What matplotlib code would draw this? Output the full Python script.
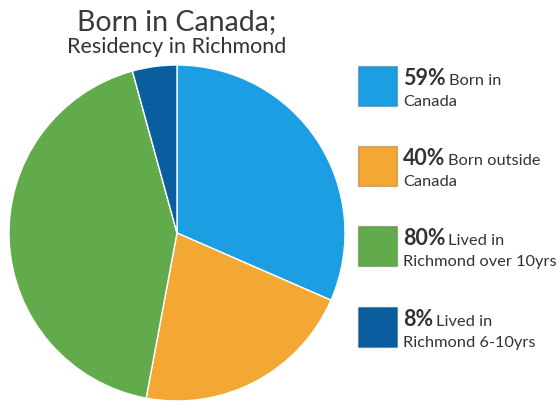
import matplotlib.pyplot as plt
from matplotlib.patches import Rectangle

# data
values = [59, 40, 80, 8]
pcts = ['59%', '40%', '80%', '8%']
line1 = ['Born in', 'Born outside', 'Lived in', 'Lived in']
line2 = ['Canada', 'Canada', 'Richmond over 10yrs', 'Richmond 6-10yrs']
colors = ['#1c9fe2', '#f2a833', '#62ab4c', '#0a5e9f']

plt.rcParams['font.family'] = ['Lato', 'DejaVu Sans']
W, H = 560, 404
fig = plt.figure(figsize=(W/100, H/100), dpi=100)

# pie, center ~ (177,233) px from top, radius ~168
cx, cy, r = 177, H-233, 168
ax = fig.add_axes([(cx-r)/W, (cy-r)/H, 2*r/W, 2*r/H])
ax.pie(values, colors=colors, startangle=90, counterclock=False,
       wedgeprops=dict(edgecolor='white', linewidth=1))
ax.set_xlim(-1, 1)
ax.set_ylim(-1, 1)
ax.set_aspect('equal')
ax.axis('off')

# title
fig.text(177/W, 1-22/H, 'Born in Canada;', ha='center', va='center',
         fontsize=20.5, color='#3a3a3a')
fig.text(177/W, 1-47/H, 'Residency in Richmond', ha='center', va='center',
         fontsize=15.5, color='#333333')

# legend
tops = [66, 146, 226, 307]
fig.canvas.draw()
rend = fig.canvas.get_renderer()
for i in range(len(values)):
    y0 = tops[i]
    fig.patches.append(Rectangle((358/W, 1-(y0+40)/H), 39/W, 40/H,
                                 transform=fig.transFigure, facecolor=colors[i],
                                 edgecolor='#00000033', linewidth=1))
    t = fig.text(403/W, 1-(y0+19)/H, pcts[i], fontsize=15.5, fontweight='bold',
                 color='#333333', va='baseline', ha='left')
    bb = t.get_window_extent(rend)
    fig.text((bb.x1+3)/W, 1-(y0+19)/H, line1[i], fontsize=11.8, color='#333333',
             va='baseline', ha='left')
    fig.text(403/W, 1-(y0+40)/H, line2[i], fontsize=11.8, color='#333333',
             va='baseline', ha='left')

fig.savefig('out.png', dpi=100, facecolor='white')
